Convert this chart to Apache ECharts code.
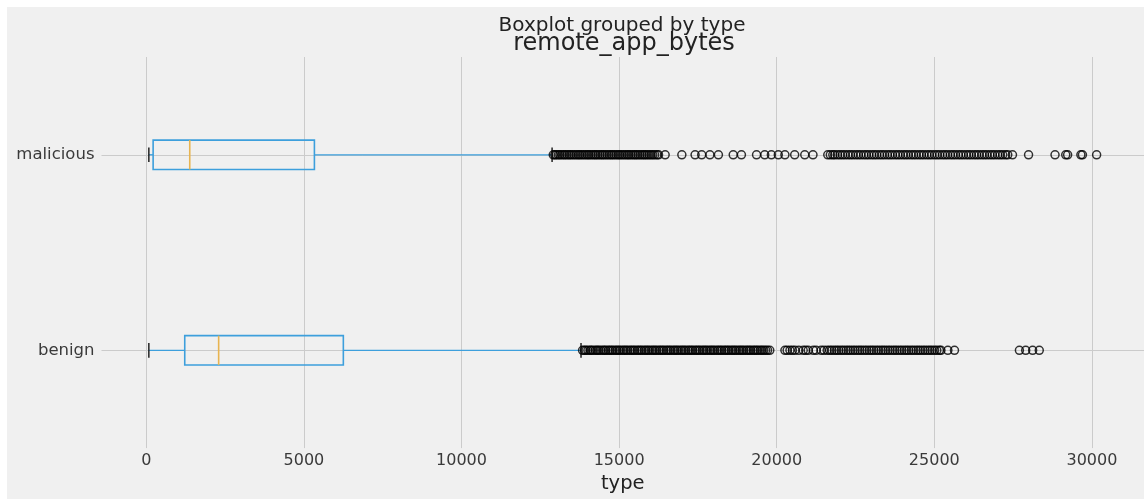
<!DOCTYPE html>
<html>
<head>
<meta charset="utf-8">
<script src="https://cdn.jsdelivr.net/npm/echarts@6/dist/echarts.min.js"></script>
<style>
  html, body { margin: 0; padding: 0; background: #ffffff; }
  #chart { width: 1144px; height: 499px; }
</style>
</head>
<body>
<div id="chart"></div>
<script>
// Categories on the vertical axis (bottom to top)
const categories = ['benign', 'malicious'];

// Five-number summaries: [lower whisker, Q1, median, Q3, upper whisker]
const benignStats = [79, 1218, 2294, 6250, 13791];
const maliciousStats = [79, 215, 1377, 5332, 12873];

// Points beyond the whiskers
const benignOutliers = [
  13840, 13900, 13950, 14010, 14080, 14120, 14180, 14250, 14300, 14350,
  14410, 14480, 14530, 14580, 14650, 14700, 14760, 14810, 14880, 14930,
  14990, 15040, 15110, 15160, 15220, 15270, 15340, 15390, 15450, 15500,
  15570, 15620, 15680, 15730, 15800, 15850, 15910, 15960, 16030, 16080,
  16140, 16190, 16260, 16310, 16370, 16420, 16490, 16540, 16600, 16650,
  16720, 16770, 16830, 16880, 16950, 17000, 17060, 17110, 17180, 17230,
  17290, 17340, 17410, 17460, 17520, 17570, 17640, 17690, 17750, 17800,
  17870, 17920, 17980, 18030, 18100, 18150, 18210, 18260, 18330, 18380,
  18440, 18490, 18560, 18610, 18670, 18720, 18790, 18840, 18900, 18950,
  19020, 19070, 19130, 19180, 19250, 19300, 19360, 19410, 19480, 19530,
  19590, 19650, 19710, 19780,
  20260, 20330, 20420, 20500, 20580, 20700, 20840, 20920, 21000, 21160,
  21250, 21410, 21500,
  21600, 21680, 21750, 21830, 21900, 21970, 22050, 22120, 22200, 22270,
  22340, 22420, 22490, 22570, 22640, 22710, 22790, 22860, 22940, 23010,
  23080, 23160, 23230, 23310, 23380, 23450, 23530, 23600, 23680, 23750,
  23820, 23900, 23970, 24050, 24120, 24190, 24270, 24340, 24420, 24490,
  24560, 24640, 24710, 24790, 24860, 24930, 25010, 25080, 25160, 25210,
  25430, 25640,
  27700, 27900, 28120, 28330
];
const maliciousOutliers = [
  12910, 12960, 13010, 13070, 13120, 13180, 13240, 13290, 13350, 13410,
  13460, 13520, 13580, 13640, 13700, 13750, 13810, 13870, 13930, 13990,
  14040, 14100, 14160, 14220, 14270, 14330, 14390, 14450, 14500, 14560,
  14620, 14680, 14740, 14790, 14850, 14910, 14970, 15020, 15080, 15140,
  15200, 15260, 15310, 15370, 15430, 15490, 15540, 15600, 15660, 15720,
  15780, 15830, 15890, 15950, 16010, 16070, 16130, 16200, 16250,
  16460, 16990, 17410, 17620, 17880, 18150, 18620, 18880, 19360, 19620,
  19830, 20050, 20260, 20570, 20890, 21150,
  21620, 21700, 21780, 21840, 21930, 22010, 22090, 22170, 22260, 22340,
  22420, 22510, 22590, 22670, 22760, 22840, 22920, 23010, 23090, 23170,
  23260, 23340, 23420, 23510, 23590, 23670, 23760, 23840, 23920, 24010,
  24090, 24170, 24260, 24340, 24420, 24510, 24590, 24670, 24760, 24840,
  24920, 25010, 25090, 25170, 25260, 25340, 25420, 25510, 25590, 25670,
  25760, 25840, 25920, 26010, 26090, 26170, 26260, 26340, 26420, 26510,
  26590, 26670, 26760, 26840, 26920, 27010, 27090, 27170, 27260, 27330,
  27480, 27990, 28830, 29170, 29230, 29650, 29700, 30150
];

// Value-axis tick labels
const xTicks = [0, 5000, 10000, 15000, 20000, 25000, 30000];

const FONT = 'DejaVu Sans';
const BOX_COLOR = '#3d9fdc';
const MEDIAN_COLOR = '#e8b450';
const CAP_COLOR = '#222222';
const GRID_COLOR = '#cbcbcb';

const boxData = [
  [0].concat(benignStats),
  [1].concat(maliciousStats)
];

const outlierData = benignOutliers.map(v => [v, categories[0]])
  .concat(maliciousOutliers.map(v => [v, categories[1]]));

// Draws one horizontal box with whiskers, caps and median
function renderBox(params, api) {
  const cat = api.value(0);
  const pLow = api.coord([api.value(1), cat]);
  const pQ1 = api.coord([api.value(2), cat]);
  const pMed = api.coord([api.value(3), cat]);
  const pQ3 = api.coord([api.value(4), cat]);
  const pHigh = api.coord([api.value(5), cat]);
  const band = api.size([0, 1])[1];
  const half = band * 0.075;
  const capHalf = half / 2;
  const y = pQ1[1];
  return {
    type: 'group',
    children: [
      { type: 'line', shape: { x1: pLow[0], y1: y, x2: pQ1[0], y2: y },
        style: { stroke: BOX_COLOR, lineWidth: 1.3 } },
      { type: 'line', shape: { x1: pQ3[0], y1: y, x2: pHigh[0], y2: y },
        style: { stroke: BOX_COLOR, lineWidth: 1.3 } },
      { type: 'rect', shape: { x: pQ1[0], y: y - half, width: pQ3[0] - pQ1[0], height: half * 2 },
        style: { fill: 'none', stroke: BOX_COLOR, lineWidth: 1.6 } },
      { type: 'line', shape: { x1: pMed[0], y1: y - half, x2: pMed[0], y2: y + half },
        style: { stroke: MEDIAN_COLOR, lineWidth: 1.6 } },
      { type: 'line', shape: { x1: pLow[0], y1: y - capHalf, x2: pLow[0], y2: y + capHalf },
        style: { stroke: CAP_COLOR, lineWidth: 1.5 } },
      { type: 'line', shape: { x1: pHigh[0], y1: y - capHalf, x2: pHigh[0], y2: y + capHalf },
        style: { stroke: CAP_COLOR, lineWidth: 1.5 } }
    ]
  };
}

const chart = echarts.init(document.getElementById('chart'), null, { renderer: 'canvas' });

chart.setOption({
  animation: false,
  backgroundColor: '#ffffff',
  textStyle: { fontFamily: FONT },
  graphic: [
    { type: 'rect', z: -10, silent: true,
      shape: { x: 7, y: 7, width: 1137, height: 492 },
      style: { fill: '#f0f0f0' } },
    { type: 'text', x: 622, y: 26, silent: true,
      style: { text: 'Boxplot grouped by type', font: '20px "DejaVu Sans"',
               fill: '#222222', align: 'center', verticalAlign: 'middle' } },
    { type: 'text', x: 624, y: 44, silent: true,
      style: { text: 'remote_app_bytes', font: '24px "DejaVu Sans"',
               fill: '#222222', align: 'center', verticalAlign: 'middle' } }
  ],
  grid: { left: 101.5, right: -2.7, top: 57, bottom: 50, containLabel: false },
  xAxis: {
    type: 'value',
    min: -1423,
    max: 31653,
    name: 'type',
    nameLocation: 'middle',
    nameGap: 25,
    nameTextStyle: { fontFamily: FONT, fontSize: 19.5, color: '#222222', verticalAlign: 'top' },
    axisLine: { show: false },
    axisTick: { show: false },
    splitLine: { show: false },
    axisLabel: {
      customValues: xTicks,
      fontFamily: FONT, fontSize: 16, color: '#3a3a3a', margin: 5,
      formatter: v => String(v)
    }
  },
  yAxis: {
    type: 'category',
    data: categories,
    axisLine: { show: false },
    axisTick: { show: false },
    splitLine: { show: false },
    axisLabel: { fontFamily: FONT, fontSize: 16.5, color: '#3a3a3a', margin: 7 }
  },
  series: [
    {
      type: 'custom',
      name: 'boxes',
      z: 3,
      renderItem: renderBox,
      encode: { x: [1, 2, 3, 4, 5], y: 0 },
      data: boxData,
      markLine: {
        z: 1,
        silent: true,
        symbol: 'none',
        label: { show: false },
        lineStyle: { color: GRID_COLOR, width: 1, type: 'solid' },
        emphasis: { disabled: true },
        data: xTicks.map(v => ({ xAxis: v }))
          .concat(categories.map(c => ({ yAxis: c })))
      }
    },
    {
      type: 'scatter',
      name: 'outliers',
      z: 4,
      symbol: 'circle',
      symbolSize: 8,
      itemStyle: { color: 'rgba(0,0,0,0)', borderColor: '#000000', borderWidth: 1.5 },
      data: outlierData
    }
  ]
});
</script>
</body>
</html>
